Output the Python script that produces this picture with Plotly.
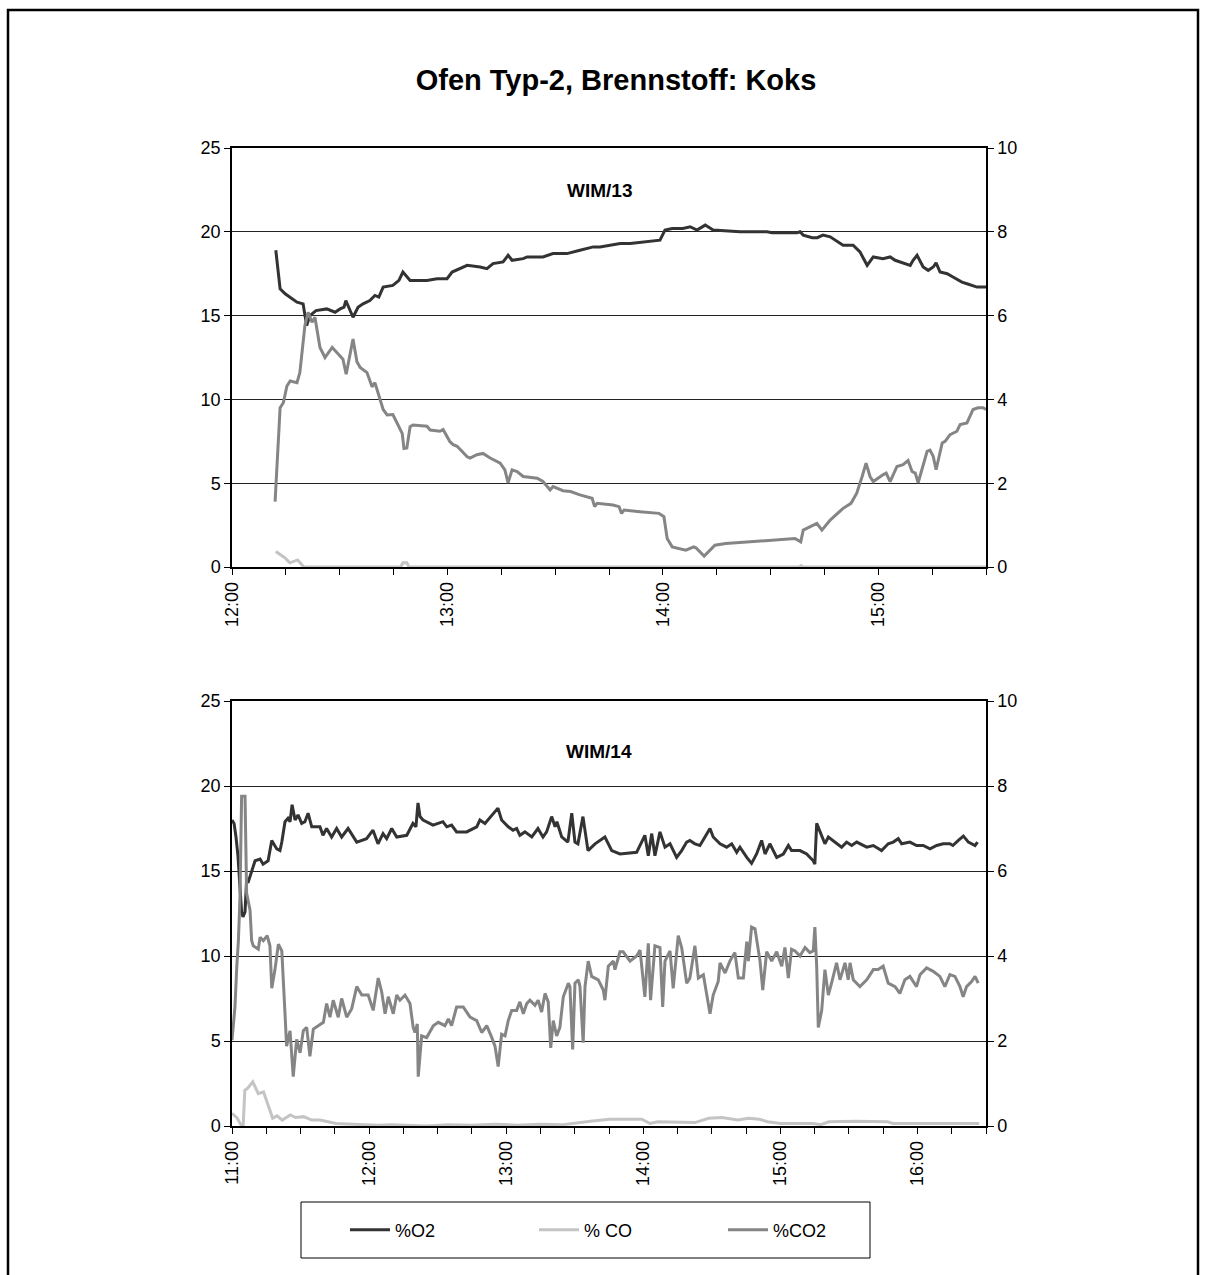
import plotly.graph_objects as go

# ---------------- Messreihe WIM/13 (Start 12:00, Zeit in Minuten) ----------------
o2_wim13 = [
    (12.2, 18.9), (13.4, 16.6), (14.8, 16.3), (16.2, 16.1), (18.1, 15.8), (19.8, 15.7),
    (20.8, 14.4), (21.7, 15.0), (23.4, 15.3), (26.4, 15.4), (28.7, 15.2), (30.1, 15.4),
    (31.2, 15.5), (31.7, 15.9), (33.7, 14.9), (35.1, 15.5), (36.5, 15.7), (38.4, 15.9),
    (39.8, 16.2), (40.9, 16.1), (42.1, 16.7), (44.8, 16.8), (46.5, 17.1), (47.6, 17.6),
    (49.6, 17.1), (54.3, 17.1), (57.1, 17.2), (59.9, 17.2), (61.3, 17.6), (65.5, 18.0),
    (69.1, 17.9), (71.0, 17.8), (72.7, 18.1), (75.5, 18.2), (76.9, 18.6), (78.0, 18.3),
    (81.1, 18.4), (82.2, 18.5), (86.6, 18.5), (89.4, 18.7), (93.3, 18.7), (96.9, 18.9),
    (100.6, 19.1), (102.5, 19.1), (106.1, 19.2), (108.1, 19.3), (110.9, 19.3), (119.2, 19.5),
    (120.6, 20.1), (122.6, 20.2), (125.6, 20.2), (127.6, 20.3), (129.5, 20.1), (131.8, 20.4),
    (134.0, 20.1), (141.5, 20.0), (149.0, 20.0), (150.4, 19.95), (157.4, 19.95), (158.2, 20.0),
    (159.1, 19.8), (161.6, 19.65), (163.0, 19.65), (164.6, 19.8), (166.6, 19.7), (170.2, 19.2),
    (173.0, 19.2), (174.9, 18.8), (176.9, 18.0), (178.6, 18.5), (181.3, 18.4), (183.3, 18.5),
    (184.7, 18.3), (186.9, 18.15), (188.9, 18.0), (189.7, 18.3), (190.8, 18.6), (192.5, 17.9),
    (193.9, 17.7), (195.3, 17.9), (196.1, 18.15), (197.2, 17.6), (199.2, 17.5), (200.8, 17.3),
    (203.3, 17.0), (204.7, 16.9), (207.5, 16.7), (210.0, 16.7),
]

co_wim13 = [
    (12.2, 0.92), (14.7, 0.55), (16.1, 0.25), (18.3, 0.42), (19.8, 0.05), (20.1, 0.0),
    (47.0, 0.0), (47.6, 0.25), (48.7, 0.25), (49.3, 0.0), (158.0, 0.0), (158.5, 0.08),
    (159.0, 0.0), (210.0, 0.0),
]

co2_wim13 = [
    (12.0, 1.56), (13.4, 3.8), (14.3, 3.92), (15.3, 4.32), (16.2, 4.44), (18.1, 4.4),
    (18.9, 4.64), (19.5, 5.16), (20.3, 5.76), (21.2, 6.08), (22.3, 5.84), (23.1, 5.96),
    (23.7, 5.6), (24.5, 5.24), (25.9, 5.0), (27.9, 5.24), (29.2, 5.12), (30.9, 4.96),
    (31.8, 4.6), (32.9, 5.1), (33.7, 5.44), (34.8, 4.9), (35.7, 4.76), (37.6, 4.64),
    (39.0, 4.3), (39.8, 4.4), (40.7, 4.16), (42.1, 3.76), (43.2, 3.63), (44.8, 3.64),
    (46.0, 3.43), (47.4, 3.19), (47.9, 2.83), (48.7, 2.84), (49.6, 3.35), (50.4, 3.39),
    (54.3, 3.36), (55.2, 3.27), (57.9, 3.24), (58.8, 3.28), (60.7, 2.99), (61.6, 2.92),
    (62.7, 2.88), (64.1, 2.75), (65.5, 2.63), (66.3, 2.6), (68.2, 2.68), (69.9, 2.71),
    (71.9, 2.6), (74.7, 2.48), (76.0, 2.32), (76.9, 2.01), (78.0, 2.32), (79.4, 2.28),
    (81.1, 2.16), (85.0, 2.12), (86.6, 2.04), (88.6, 1.84), (89.4, 1.92), (92.2, 1.82),
    (94.3, 1.8), (96.9, 1.72), (100.3, 1.64), (101.0, 1.44), (101.7, 1.52), (106.1, 1.48),
    (107.8, 1.44), (108.5, 1.28), (109.2, 1.36), (113.6, 1.32), (118.9, 1.28), (120.3, 1.2),
    (121.2, 0.68), (122.6, 0.48), (126.4, 0.4), (128.6, 0.48), (129.2, 0.46), (131.5, 0.26),
    (134.5, 0.52), (137.5, 0.56), (149.4, 0.64), (156.8, 0.68), (158.4, 0.6), (159.1, 0.88),
    (162.9, 1.04), (164.3, 0.88), (166.6, 1.12), (170.2, 1.4), (172.4, 1.52), (174.0, 1.76),
    (175.5, 2.16), (176.6, 2.48), (177.7, 2.16), (178.6, 2.04), (181.3, 2.2), (182.2, 2.24),
    (183.3, 2.04), (185.2, 2.4), (186.9, 2.44), (188.3, 2.54), (189.4, 2.28), (190.3, 2.24),
    (191.1, 2.01), (192.5, 2.4), (193.6, 2.76), (194.4, 2.79), (195.3, 2.64), (196.1, 2.32),
    (196.7, 2.56), (197.8, 2.96), (198.6, 3.0), (200.0, 3.16), (201.9, 3.24), (202.8, 3.4),
    (204.7, 3.44), (206.4, 3.76), (207.8, 3.8), (209.2, 3.8), (210.0, 3.76),
]

# ---------------- Messreihe WIM/14 (Start 11:00, Zeit in Minuten) ----------------
o2_wim14 = [
    (0.0, 18.0), (0.9, 17.8), (1.75, 17.0), (2.6, 15.9), (4.2, 12.6), (4.8, 12.3),
    (5.7, 12.6), (6.4, 14.5), (7.0, 14.3), (8.6, 15.0), (10.1, 15.6), (12.3, 15.7),
    (13.6, 15.4), (15.8, 15.6), (17.4, 16.8), (19.6, 16.3), (21.0, 16.2), (21.8, 16.7),
    (23.2, 17.9), (24.5, 18.1), (25.4, 17.9), (26.3, 18.9), (27.6, 18.0), (28.9, 18.3),
    (30.5, 17.8), (31.9, 17.9), (33.3, 18.4), (34.9, 17.6), (38.5, 17.6), (39.8, 17.1),
    (41.4, 17.5), (43.6, 17.0), (45.8, 17.5), (48.0, 17.0), (50.8, 17.5), (54.6, 16.7),
    (58.9, 16.9), (61.7, 17.4), (63.9, 16.6), (66.1, 17.2), (67.7, 16.9), (69.9, 17.5),
    (72.1, 17.0), (76.5, 17.1), (79.2, 17.8), (80.5, 17.6), (81.4, 19.0), (82.3, 18.2),
    (83.6, 18.0), (88.0, 17.7), (92.3, 17.9), (94.0, 17.6), (96.1, 17.7), (98.3, 17.3),
    (102.7, 17.3), (107.1, 17.6), (108.5, 18.0), (110.7, 17.8), (113.7, 18.3), (116.4, 18.7),
    (118.0, 18.0), (120.9, 17.6), (123.0, 17.4), (124.6, 17.5), (126.0, 17.1), (128.2, 17.3),
    (131.2, 17.0), (133.9, 17.5), (136.1, 17.0), (137.7, 17.3), (139.9, 18.2), (141.4, 17.6),
    (142.2, 17.9), (144.3, 17.0), (147.0, 16.7), (148.7, 18.4), (150.1, 16.7), (151.4, 16.6),
    (153.6, 18.2), (155.8, 16.2), (158.9, 16.6), (163.2, 17.0), (166.2, 16.2), (169.8, 16.0),
    (177.1, 16.1), (178.6, 16.5), (180.7, 17.1), (182.2, 15.9), (183.7, 17.2), (185.1, 15.9),
    (187.3, 17.3), (189.5, 16.4), (191.7, 16.6), (194.6, 15.8), (196.8, 16.2), (199.0, 16.7),
    (200.4, 16.8), (202.6, 16.6), (204.8, 16.5), (207.0, 17.0), (209.2, 17.5), (210.6, 17.0),
    (213.6, 16.6), (216.5, 16.4), (218.7, 16.6), (220.9, 16.1), (222.3, 16.4), (225.3, 15.8),
    (227.4, 15.45), (229.6, 16.0), (231.8, 16.8), (233.3, 16.0), (235.4, 16.6), (238.4, 15.8),
    (241.3, 16.0), (243.5, 16.5), (244.9, 16.2), (248.6, 16.2), (251.5, 16.0), (254.4, 15.6),
    (255.1, 15.4), (255.9, 17.8), (258.1, 17.0), (259.5, 16.6), (261.0, 17.0), (264.6, 16.6),
    (266.8, 16.4), (269.0, 16.7), (271.2, 16.5), (273.4, 16.7), (277.8, 16.4), (280.7, 16.5),
    (284.3, 16.2), (287.2, 16.6), (289.4, 16.7), (291.6, 16.9), (293.1, 16.6), (296.7, 16.7),
    (299.6, 16.5), (302.5, 16.5), (305.5, 16.3), (308.4, 16.5), (311.3, 16.6), (314.2, 16.6),
    (315.5, 16.5), (317.9, 16.8), (320.1, 17.05), (322.3, 16.7), (325.2, 16.5), (326.3, 16.7),
]

co_wim14 = [
    (0.0, 0.75), (2.2, 0.48), (4.2, 0.0), (4.9, 0.0), (5.6, 2.1), (6.7, 2.2), (9.1, 2.6),
    (11.5, 1.9), (13.8, 2.0), (16.2, 1.05), (17.8, 0.45), (19.7, 0.6), (22.0, 0.35),
    (25.5, 0.65), (27.8, 0.5), (31.4, 0.55), (34.9, 0.35), (38.5, 0.35), (41.9, 0.25),
    (45.5, 0.15), (50.0, 0.12), (55.0, 0.08), (64.0, 0.05), (70.0, 0.08), (80.0, 0.03),
    (85.0, 0.0), (95.0, 0.08), (105.0, 0.05), (115.0, 0.1), (125.0, 0.05), (135.0, 0.1),
    (145.0, 0.08), (157.8, 0.3), (165.3, 0.4), (179.4, 0.4), (182.9, 0.15), (186.4, 0.25),
    (202.6, 0.2), (208.6, 0.45), (214.4, 0.5), (221.4, 0.35), (226.1, 0.45), (230.8, 0.4),
    (234.3, 0.25), (240.2, 0.15), (254.2, 0.15), (257.7, 0.08), (261.2, 0.25), (272.9, 0.28),
    (287.0, 0.25), (289.2, 0.15), (305.7, 0.15), (315.0, 0.12), (324.4, 0.12), (327.0, 0.15),
]

co2_wim14 = [
    (0.0, 2.02), (1.3, 2.8), (2.1, 3.76), (2.8, 4.36), (3.5, 5.4), (4.2, 7.76), (5.7, 7.76),
    (6.1, 5.56), (6.4, 5.48), (7.9, 5.08), (8.6, 4.36), (9.3, 4.24), (11.5, 4.16), (12.3, 4.44),
    (13.7, 4.36), (15.4, 4.48), (16.6, 4.24), (17.4, 3.24), (18.8, 3.68), (20.3, 4.28),
    (21.8, 4.12), (23.2, 2.64), (23.9, 1.88), (25.4, 2.24), (26.8, 1.16), (28.3, 2.04),
    (29.8, 1.72), (31.2, 2.24), (32.7, 2.32), (34.1, 1.64), (35.6, 2.28), (40.0, 2.44),
    (41.4, 2.88), (42.9, 2.56), (44.3, 2.96), (46.5, 2.56), (48.0, 3.0), (50.2, 2.56),
    (52.4, 2.76), (54.6, 3.28), (56.8, 3.08), (59.6, 3.08), (61.8, 2.72), (64.0, 3.48),
    (65.5, 3.16), (67.0, 2.64), (68.4, 3.04), (70.6, 2.64), (72.1, 3.08), (73.5, 2.96),
    (75.7, 3.08), (77.9, 2.88), (79.3, 2.32), (80.1, 2.2), (81.1, 2.4), (81.5, 1.16),
    (83.0, 2.12), (85.2, 2.08), (88.1, 2.36), (90.3, 2.44), (93.2, 2.36), (94.7, 2.52),
    (96.1, 2.36), (98.3, 2.8), (101.2, 2.8), (104.2, 2.56), (107.1, 2.48), (109.3, 2.2),
    (111.5, 2.36), (113.7, 2.08), (115.1, 1.88), (116.5, 1.4), (118.0, 2.16), (119.5, 2.12),
    (120.9, 2.48), (122.4, 2.72), (124.6, 2.72), (126.0, 2.92), (127.5, 2.64), (129.0, 2.88),
    (130.4, 2.96), (132.6, 2.84), (134.0, 2.96), (135.5, 2.68), (137.0, 3.12), (138.4, 2.92),
    (139.5, 1.84), (140.6, 2.48), (142.1, 2.12), (143.5, 2.32), (145.0, 3.04), (147.2, 3.36),
    (147.9, 3.28), (149.1, 1.8), (150.1, 3.36), (151.6, 3.44), (152.3, 3.28), (153.7, 1.96),
    (154.5, 3.28), (155.9, 3.88), (157.4, 3.52), (160.3, 3.44), (162.5, 3.2), (163.2, 2.96),
    (164.7, 3.76), (166.9, 3.88), (167.6, 3.68), (169.8, 4.1), (171.2, 4.1), (174.2, 3.88),
    (177.1, 4.0), (178.6, 4.14), (180.0, 3.44), (180.7, 3.04), (182.2, 4.3), (183.2, 2.96),
    (185.1, 4.24), (187.3, 4.2), (188.5, 2.8), (189.5, 3.88), (191.7, 4.12), (193.1, 3.24),
    (195.3, 4.48), (196.8, 4.2), (199.0, 3.36), (200.4, 3.48), (202.6, 4.24), (204.1, 3.48),
    (206.3, 3.56), (207.7, 3.12), (209.2, 2.64), (210.6, 3.08), (212.8, 3.4), (213.6, 3.84),
    (215.8, 3.6), (217.9, 3.88), (220.1, 4.08), (221.6, 3.48), (223.8, 3.48), (225.3, 4.34),
    (226.0, 3.88), (227.4, 4.68), (228.9, 4.64), (231.1, 3.88), (232.3, 3.2), (234.0, 4.1),
    (236.2, 3.88), (238.4, 4.1), (240.6, 3.76), (242.0, 4.2), (243.5, 3.48), (244.9, 4.16),
    (246.4, 4.12), (248.6, 4.0), (250.8, 4.2), (252.9, 4.08), (254.4, 4.12), (255.1, 4.68),
    (255.9, 3.76), (256.6, 2.32), (258.1, 2.72), (259.5, 3.68), (261.0, 3.08), (262.4, 3.36),
    (264.6, 3.84), (266.1, 3.44), (268.3, 3.84), (269.7, 3.44), (270.5, 3.84), (271.9, 3.44),
    (274.8, 3.28), (277.8, 3.44), (280.7, 3.68), (282.8, 3.68), (285.0, 3.76), (287.2, 3.36),
    (290.2, 3.28), (292.3, 3.12), (294.5, 3.44), (296.7, 3.52), (299.6, 3.28), (301.1, 3.56),
    (304.0, 3.72), (306.9, 3.64), (309.8, 3.52), (312.0, 3.28), (314.2, 3.56), (316.4, 3.52),
    (318.6, 3.28), (320.0, 3.04), (321.5, 3.28), (323.7, 3.4), (325.2, 3.52), (326.6, 3.36),
]

series_names = ["%O2", "% CO", "%CO2"]
series_colors = ["#333333", "#c4c4c4", "#858585"]
series_widths = [3, 3, 3]

hours_wim13 = ["12:00", "13:00", "14:00", "15:00"]
hours_wim14 = ["11:00", "12:00", "13:00", "14:00", "15:00", "16:00"]
span_wim13 = 210   # 12:00 - 15:30
span_wim14 = 330   # 11:00 - 16:30

W, H = 1208, 1275
FONT = "Liberation Sans, Arial, sans-serif"


def px_x(p):
    return p / W


def px_y(p):
    return 1 - p / H


fig = go.Figure()

panels = [
    (o2_wim13, co_wim13, co2_wim13, "x", "y", "y2", True),
    (o2_wim14, co_wim14, co2_wim14, "x2", "y3", "y4", False),
]
for o2, co, co2, xa, ya, ya2, show in panels:
    for data, name, color, width, yax in zip(
        (o2, co, co2), series_names, series_colors, series_widths, (ya, ya, ya2)
    ):
        fig.add_trace(go.Scatter(
            x=[t for t, _ in data], y=[v for _, v in data],
            mode="lines", name=name, showlegend=show,
            line=dict(color=color, width=width),
            xaxis=xa, yaxis=yax,
        ))

x_dom = [px_x(232), px_x(986)]
top_dom = [px_y(567), px_y(148)]
bot_dom = [px_y(1126), px_y(701)]

tickfont = dict(family=FONT, size=18, color="black")


def x_axis(domain_anchor, span, labels):
    return dict(
        domain=x_dom, anchor=domain_anchor, range=[0, span],
        tickmode="array", tickvals=[60 * i for i in range(len(labels))], ticktext=labels,
        tickangle=-90, ticks="outside", ticklen=6, tickwidth=1, tickcolor="black",
        minor=dict(ticks="outside", tick0=0, dtick=15, ticklen=6, tickwidth=1,
                   tickcolor="black", showgrid=False),
        showline=True, linecolor="black", linewidth=1.5, mirror=True,
        showgrid=False, zeroline=False, tickfont=tickfont, layer="below traces",
        automargin=False,
    )


def y_left(domain, anchor):
    return dict(
        domain=domain, anchor=anchor, range=[0, 25], dtick=5, tick0=0,
        ticks="outside", ticklen=6, tickwidth=1, tickcolor="black",
        showline=True, linecolor="black", linewidth=1.5,
        showgrid=True, gridcolor="#222222", gridwidth=1, zeroline=False,
        tickfont=tickfont, layer="below traces", automargin=False,
    )


def y_right(overlay, anchor):
    return dict(
        overlaying=overlay, anchor=anchor, side="right", range=[0, 10], dtick=2, tick0=0,
        ticks="outside", ticklen=6, tickwidth=1, tickcolor="black",
        showline=True, linecolor="black", linewidth=1.5,
        showgrid=False, zeroline=False, tickfont=tickfont, layer="below traces",
        automargin=False,
    )


fig.update_layout(
    width=W, height=H, autosize=False,
    margin=dict(l=0, r=0, t=0, b=0, pad=0),
    paper_bgcolor="white", plot_bgcolor="white",
    font=dict(family=FONT, color="black"),
    xaxis=x_axis("y", span_wim13, hours_wim13),
    yaxis=y_left(top_dom, "x"),
    yaxis2=y_right("y", "x"),
    xaxis2=x_axis("y3", span_wim14, hours_wim14),
    yaxis3=y_left(bot_dom, "x2"),
    yaxis4=y_right("y3", "x2"),
    title=dict(text="<b>Ofen Typ-2, Brennstoff: Koks</b>",
               x=px_x(616), y=px_y(80), xanchor="center", yanchor="middle",
               font=dict(family=FONT, size=29, color="black")),
    legend=dict(orientation="h", x=px_x(345), y=px_y(1230), xanchor="left", yanchor="middle",
                entrywidth=134, entrywidthmode="pixels", itemwidth=40,
                bgcolor="rgba(0,0,0,0)", borderwidth=0,
                font=dict(family=FONT, size=18, color="black")),
    showlegend=True,
)

# Plot-Beschriftungen
for label, yc in (("WIM/13", 190), ("WIM/14", 751)):
    fig.add_annotation(text=f"<b>{label}</b>", x=px_x(599), y=px_y(yc),
                       xref="paper", yref="paper", showarrow=False,
                       xanchor="center", yanchor="middle",
                       font=dict(family=FONT, size=19, color="black"))

# Rahmen um das Diagramm und um die Legende
fig.add_shape(type="rect", xref="paper", yref="paper",
              x0=px_x(8), x1=px_x(1198), y0=px_y(1290), y1=px_y(10),
              line=dict(color="black", width=2.5), layer="below")
fig.add_shape(type="rect", xref="paper", yref="paper",
              x0=px_x(301), x1=px_x(870), y0=px_y(1258), y1=px_y(1202),
              line=dict(color="black", width=1), layer="below")

fig.write_html(
    "out.html",
    config={"responsive": False},
    post_script="document.body.style.margin='0';document.body.style.overflow='hidden';",
)
